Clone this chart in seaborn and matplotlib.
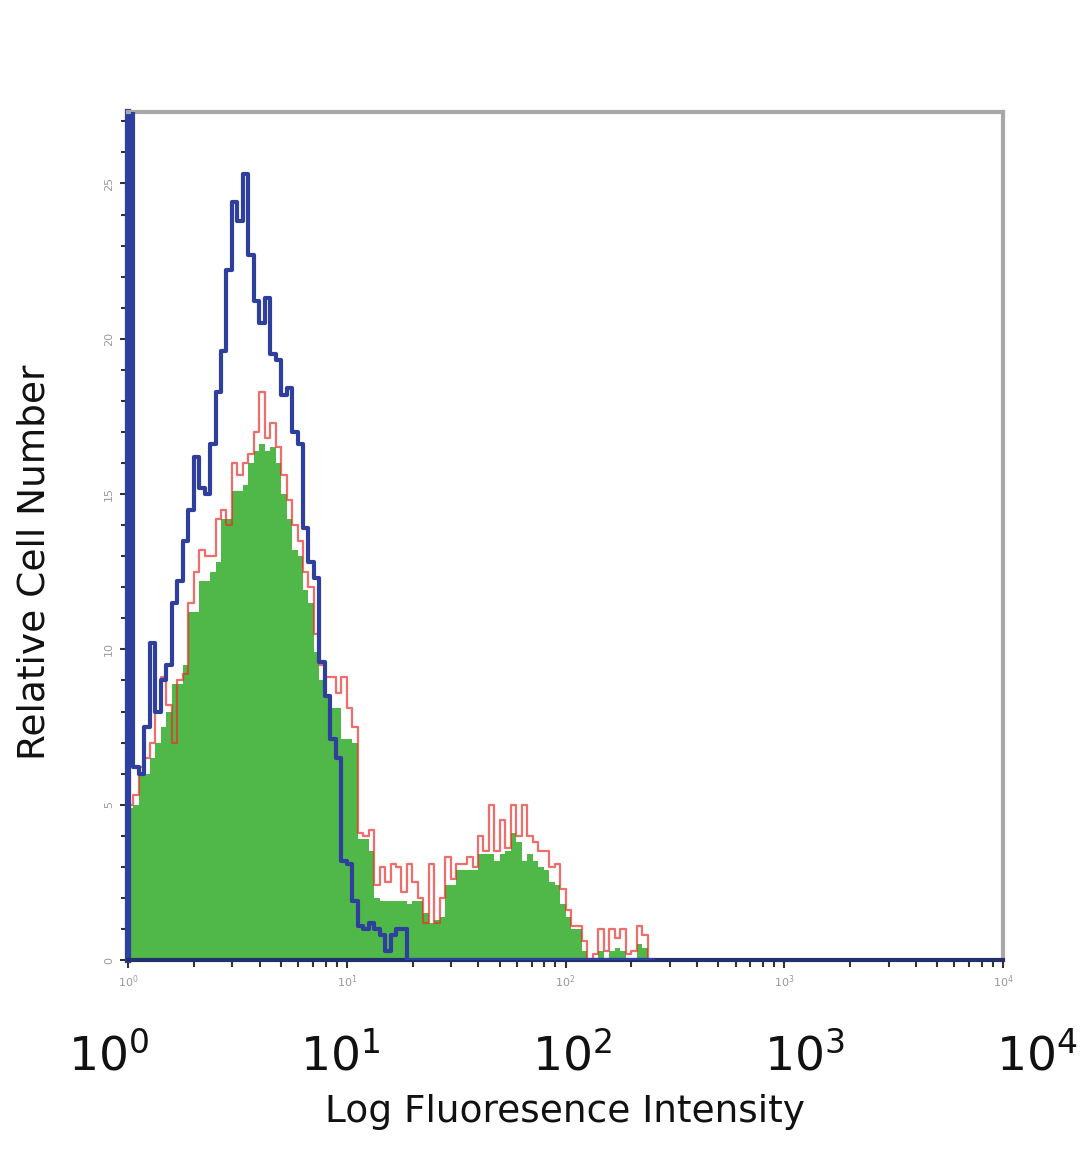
import numpy as np
import pandas as pd
import matplotlib
matplotlib.use("Agg")
import matplotlib.pyplot as plt
import seaborn as sns
from matplotlib.ticker import LogLocator, MultipleLocator, NullFormatter

# histogram channels: 40 channels per decade, first 96 channels (10^0 .. 10^2.4)
channel_width = 0.025

# blue outline histogram (channel 0 is off-scale)
blue_counts = [40.0, 6.2, 6.0, 7.5, 10.2, 8.0, 9.0, 9.5, 11.5, 12.2,
               13.5, 14.5, 16.2, 15.2, 15.0, 16.6, 18.3, 19.6, 22.2, 24.4,
               23.8, 25.3, 22.7, 21.2, 20.5, 21.3, 19.5, 19.3, 18.2, 18.4,
               17.0, 16.6, 13.9, 12.8, 12.3, 9.6, 8.5, 7.1, 6.5, 3.2,
               3.1, 1.9, 1.1, 1.0, 1.2, 1.0, 0.8, 0.3, 0.8, 1.0,
               1.0, 0, 0, 0, 0, 0, 0, 0, 0, 0,
               0, 0, 0, 0, 0, 0, 0, 0, 0, 0,
               0, 0, 0, 0, 0, 0, 0, 0, 0, 0,
               0, 0, 0, 0, 0, 0, 0, 0, 0, 0,
               0, 0, 0, 0, 0, 0]

# green filled histogram
green_counts = [4.9, 5.0, 6.0, 6.0, 6.5, 7.0, 7.5, 8.0, 8.9, 8.9,
                9.5, 11.2, 11.2, 12.2, 12.2, 12.5, 12.8, 14.2, 14.2, 15.1,
                15.1, 15.3, 16.0, 16.4, 16.6, 16.4, 16.5, 16.0, 15.0, 14.2,
                13.2, 13.0, 11.9, 11.5, 9.9, 9.0, 8.5, 8.1, 8.1, 7.1,
                7.1, 7.0, 3.9, 3.9, 3.5, 2.0, 1.9, 1.9, 1.9, 1.9,
                1.9, 1.8, 1.9, 1.9, 1.5, 1.2, 1.3, 1.4, 2.4, 2.4,
                2.9, 2.9, 2.9, 2.9, 3.4, 3.4, 3.4, 3.2, 3.4, 3.5,
                4.1, 3.8, 3.2, 3.4, 3.2, 3.0, 2.9, 2.5, 2.4, 1.8,
                1.4, 1.0, 1.0, 0.3, 0.0, 0.0, 0.3, 0.0, 0.3, 0.4,
                0.3, 0.0, 0.0, 0.5, 0.4, 0]

# red outline histogram
red_counts = [5.0, 5.3, 6.2, 6.5, 7.0, 8.0, 9.1, 8.2, 7.0, 9.0,
              9.2, 11.5, 12.5, 13.2, 13.0, 13.0, 14.2, 14.5, 14.0, 16.0,
              15.6, 16.0, 16.3, 17.0, 18.3, 16.8, 17.3, 16.5, 15.6, 14.8,
              14.0, 13.5, 12.5, 12.0, 10.5, 9.5, 9.1, 9.1, 8.6, 9.1,
              8.1, 7.5, 4.1, 4.0, 4.2, 2.4, 3.0, 2.5, 3.1, 3.0,
              2.2, 3.1, 2.5, 2.0, 1.2, 3.1, 1.2, 2.0, 3.3, 2.6,
              3.1, 3.1, 3.3, 3.0, 4.0, 3.5, 5.0, 3.5, 4.5, 3.6,
              5.0, 4.0, 5.0, 4.0, 3.8, 3.5, 3.5, 3.0, 3.1, 2.3,
              1.6, 1.1, 1.1, 0.6, 0.0, 0.2, 1.0, 0.3, 1.0, 0.7,
              1.0, 0.2, 0.3, 1.1, 0.8, 0]

big_tick_labels = ["$\\mathregular{10^{0}}$", "$\\mathregular{10^{1}}$",
                   "$\\mathregular{10^{2}}$", "$\\mathregular{10^{3}}$",
                   "$\\mathregular{10^{4}}$"]

n = len(green_counts)
edges = 10 ** (np.arange(n + 1) * channel_width)

def steps(counts):
    return pd.DataFrame({"x": edges, "y": list(counts) + [0.0]})

df_blue = steps(blue_counts)
df_green = steps(green_counts)
df_red = steps(red_counts)

sns.set_style("ticks")
plt.rcParams["font.family"] = ["DejaVu Sans"]

fig = plt.figure(figsize=(10.8, 11.69), dpi=100)
ax = fig.add_axes([128 / 1080, 1 - 960 / 1169, 875 / 1080, 848 / 1169])
ax.set_xscale("log")

green = "#50b848"
blue = "#2f3f9e"
red = "#e8302c"

ax.fill_between(df_green["x"], df_green["y"], step="post", color=green, lw=0, zorder=1)
sns.lineplot(data=df_red, x="x", y="y", drawstyle="steps-post", estimator=None,
             sort=False, color=red, lw=1.6, alpha=0.7, ax=ax, zorder=2)
sns.lineplot(data=df_blue, x="x", y="y", drawstyle="steps-post", estimator=None,
             sort=False, color=blue, lw=3, ax=ax, zorder=3)

ax.set_xlim(1, 1e4)
ax.set_ylim(0, 27.3)

for side in ["top", "right"]:
    ax.spines[side].set_color("#a8a8a8")
    ax.spines[side].set_linewidth(3)
ax.spines["left"].set_color(blue)
ax.spines["left"].set_linewidth(4.5)
ax.spines["bottom"].set_color("#23306e")
ax.spines["bottom"].set_linewidth(3)

ax.yaxis.set_major_locator(MultipleLocator(5))
ax.yaxis.set_minor_locator(MultipleLocator(1))
ax.xaxis.set_major_locator(LogLocator(base=10))
ax.xaxis.set_minor_locator(LogLocator(base=10, subs=np.arange(2, 10)))
ax.xaxis.set_minor_formatter(NullFormatter())

ax.tick_params(axis="both", which="major", length=6, width=1.5, color="#333333",
               labelsize=8, labelcolor="#999999", pad=4)
ax.tick_params(axis="both", which="minor", length=5, width=1.5, color="#333333")
for lab in ax.get_yticklabels():
    lab.set_rotation(90)
    lab.set_va("center")

ax.set_xlabel("")
ax.set_ylabel("")

# large decade labels under the axis
for i, lab in enumerate(big_tick_labels):
    fig.text((68 + i * 232) / 1080, 1 - 1070 / 1169, lab, fontsize=34,
             ha="left", va="baseline", color="#111111")

fig.text(565 / 1080, 1 - 1112 / 1169, "Log Fluoresence Intensity", fontsize=27,
         ha="center", va="center", color="#111111")
fig.text(35 / 1080, 1 - 562 / 1169, "Relative Cell Number", fontsize=27,
         rotation=90, ha="center", va="center", color="#111111")

fig.savefig("out.png", dpi=100)
